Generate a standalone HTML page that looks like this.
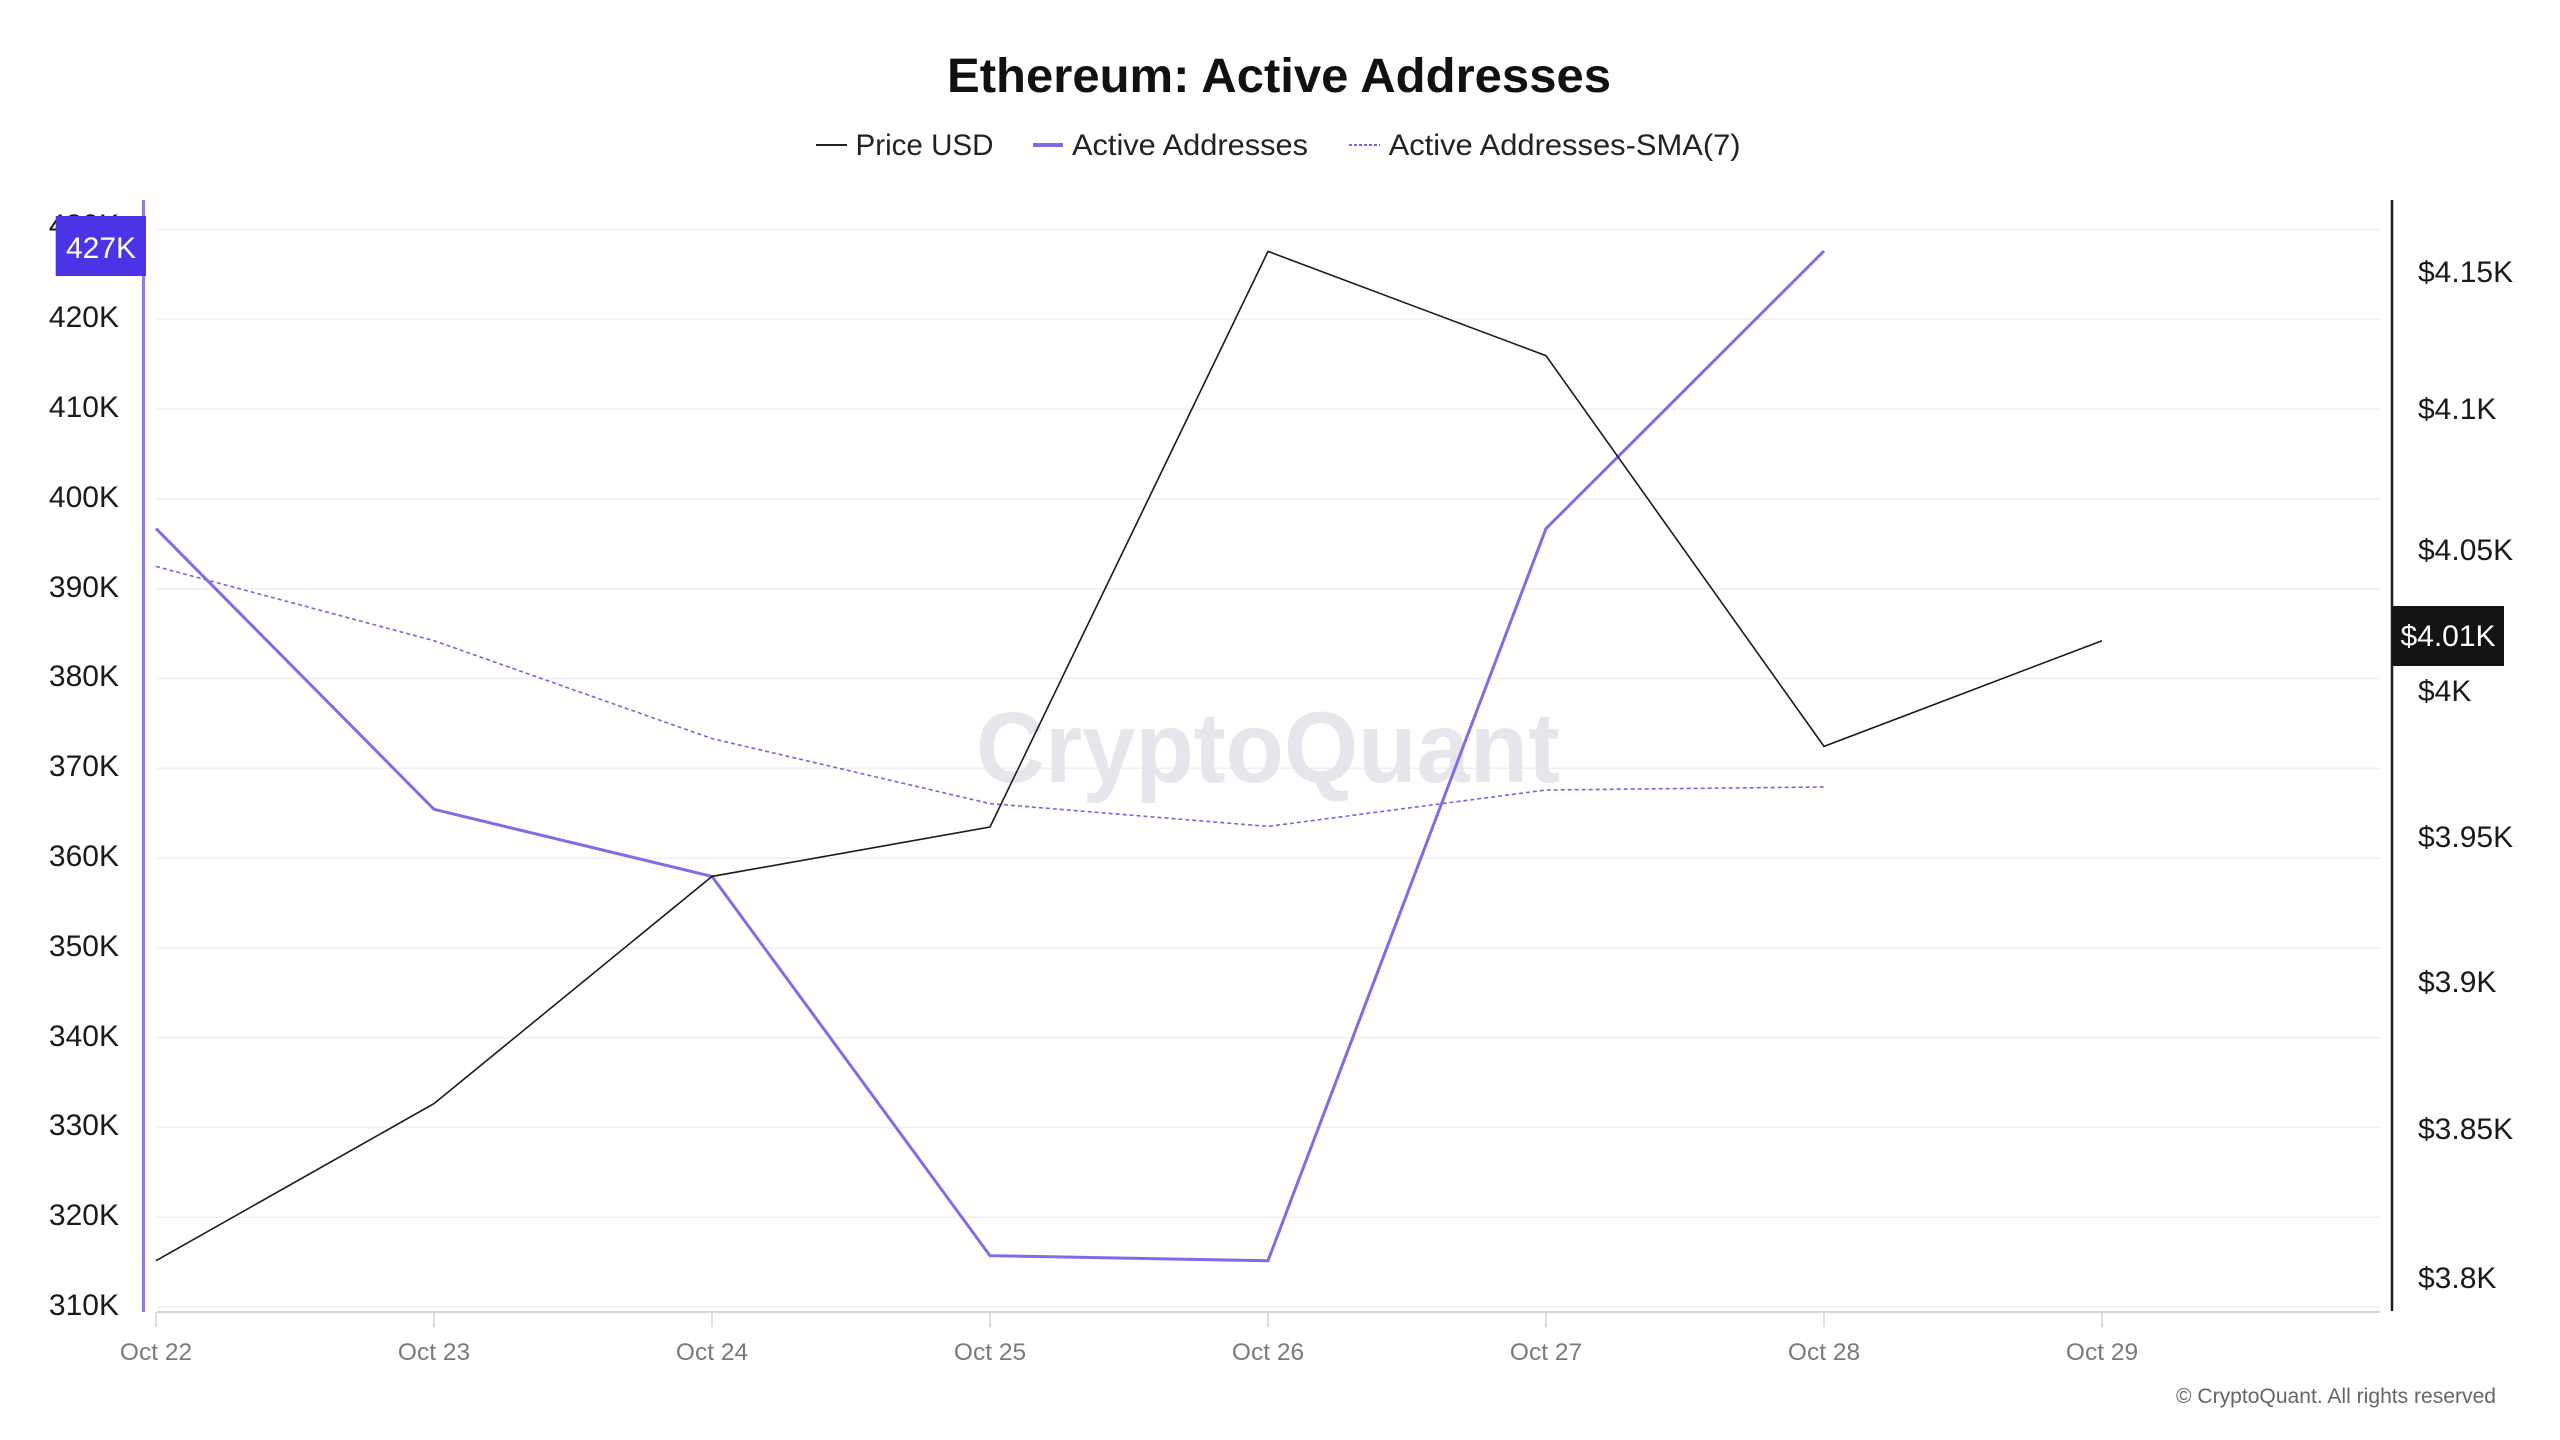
<!DOCTYPE html>
<html>
<head>
<meta charset="utf-8">
<style>
  html, body { margin: 0; padding: 0; background: #ffffff; }
  body { width: 2560px; height: 1440px; overflow: hidden; }
  svg { display: block; }
  text { font-family: "Liberation Sans", "DejaVu Sans", sans-serif; }
</style>
</head>
<body>
<svg width="2560" height="1440" viewBox="0 0 2560 1440" xmlns="http://www.w3.org/2000/svg">
  <rect x="0" y="0" width="2560" height="1440" fill="#ffffff"/>

  <!-- Title -->
  <text x="1279" y="92" text-anchor="middle" font-size="48" font-weight="bold" fill="#111111" textLength="664" lengthAdjust="spacingAndGlyphs">Ethereum: Active Addresses</text>

  <!-- Legend -->
  <line x1="816" y1="145" x2="847" y2="145" stroke="#222222" stroke-width="2"/>
  <text x="855.5" y="155" font-size="30" fill="#222222" textLength="138" lengthAdjust="spacingAndGlyphs">Price USD</text>
  <line x1="1033" y1="145" x2="1063" y2="145" stroke="#7b6ee8" stroke-width="4"/>
  <text x="1072" y="155" font-size="30" fill="#222222" textLength="236" lengthAdjust="spacingAndGlyphs">Active Addresses</text>
  <line x1="1349" y1="145" x2="1380" y2="145" stroke="#7466e0" stroke-width="2" stroke-dasharray="3 2"/>
  <text x="1388.6" y="155" font-size="30" fill="#222222" textLength="352" lengthAdjust="spacingAndGlyphs">Active Addresses-SMA(7)</text>

  <!-- Gridlines -->
  <g stroke="#efeff1" stroke-width="1.5">
    <line x1="157" y1="229.5" x2="2380" y2="229.5"/>
    <line x1="157" y1="319.3" x2="2380" y2="319.3"/>
    <line x1="157" y1="409.1" x2="2380" y2="409.1"/>
    <line x1="157" y1="498.9" x2="2380" y2="498.9"/>
    <line x1="157" y1="588.7" x2="2380" y2="588.7"/>
    <line x1="157" y1="678.5" x2="2380" y2="678.5"/>
    <line x1="157" y1="768.3" x2="2380" y2="768.3"/>
    <line x1="157" y1="858.1" x2="2380" y2="858.1"/>
    <line x1="157" y1="947.9" x2="2380" y2="947.9"/>
    <line x1="157" y1="1037.7" x2="2380" y2="1037.7"/>
    <line x1="157" y1="1127.5" x2="2380" y2="1127.5"/>
    <line x1="157" y1="1217.3" x2="2380" y2="1217.3"/>
    <line x1="157" y1="1307.1" x2="2380" y2="1307.1"/>
  </g>

  <!-- Watermark -->
  <text x="1268" y="782" text-anchor="middle" font-size="100" font-weight="bold" fill="#e6e6ed" textLength="584" lengthAdjust="spacingAndGlyphs">CryptoQuant</text>

  <!-- X axis -->
  <line x1="157" y1="1312" x2="2380" y2="1312" stroke="#d4d4d8" stroke-width="2"/>
  <g stroke="#d4d4d8" stroke-width="1.5">
    <line x1="156" y1="1312" x2="156" y2="1327"/>
    <line x1="434" y1="1312" x2="434" y2="1327"/>
    <line x1="712" y1="1312" x2="712" y2="1327"/>
    <line x1="990" y1="1312" x2="990" y2="1327"/>
    <line x1="1268" y1="1312" x2="1268" y2="1327"/>
    <line x1="1546" y1="1312" x2="1546" y2="1327"/>
    <line x1="1824" y1="1312" x2="1824" y2="1327"/>
    <line x1="2102" y1="1312" x2="2102" y2="1327"/>
  </g>
  <g font-size="24.5" fill="#7a7a7e" text-anchor="middle">
    <text x="156" y="1360">Oct 22</text>
    <text x="434" y="1360">Oct 23</text>
    <text x="712" y="1360">Oct 24</text>
    <text x="990" y="1360">Oct 25</text>
    <text x="1268" y="1360">Oct 26</text>
    <text x="1546" y="1360">Oct 27</text>
    <text x="1824" y="1360">Oct 28</text>
    <text x="2102" y="1360">Oct 29</text>
  </g>

  <!-- Left axis -->
  <line x1="143.5" y1="200" x2="143.5" y2="1312" stroke="#8a7de8" stroke-width="3"/>
  <g font-size="30" fill="#1a1a1a" text-anchor="end">
    <text x="119" y="235">430K</text>
    <text x="119" y="327">420K</text>
    <text x="119" y="417">410K</text>
    <text x="119" y="507">400K</text>
    <text x="119" y="597">390K</text>
    <text x="119" y="686">380K</text>
    <text x="119" y="776">370K</text>
    <text x="119" y="866">360K</text>
    <text x="119" y="956">350K</text>
    <text x="119" y="1046">340K</text>
    <text x="119" y="1135">330K</text>
    <text x="119" y="1225">320K</text>
    <text x="119" y="1315">310K</text>
  </g>
  <rect x="55.7" y="216" width="90.3" height="60" fill="#4b33e6"/>
  <text x="101" y="258" font-size="30" fill="#ffffff" text-anchor="middle">427K</text>

  <!-- Right axis -->
  <line x1="2392" y1="200" x2="2392" y2="1311" stroke="#1e1e1e" stroke-width="2.5"/>
  <g font-size="30" fill="#1a1a1a">
    <text x="2418" y="282">$4.15K</text>
    <text x="2418" y="419">$4.1K</text>
    <text x="2418" y="560">$4.05K</text>
    <text x="2418" y="701">$4K</text>
    <text x="2418" y="847">$3.95K</text>
    <text x="2418" y="992">$3.9K</text>
    <text x="2418" y="1139">$3.85K</text>
    <text x="2418" y="1288">$3.8K</text>
  </g>
  <rect x="2392" y="606" width="112" height="60" fill="#131316"/>
  <text x="2448" y="646" font-size="30" fill="#ffffff" text-anchor="middle">$4.01K</text>

  <!-- SMA(7) dashed -->
  <polyline fill="none" stroke="#7466e0" stroke-width="1.6" stroke-dasharray="4 3"
    points="156,566.4 434,640.7 712,738.6 990,803.6 1268,826.4 1546,790 1824,787"/>

  <!-- Active Addresses -->
  <polyline fill="none" stroke="#7b6ee8" stroke-width="3" stroke-linejoin="miter"
    points="156,528.6 434,809.3 712,876.4 990,1255.7 1268,1260.7 1546,528.6 1824,251"/>

  <!-- Price USD -->
  <polyline fill="none" stroke="#1a1a1a" stroke-width="1.6"
    points="156,1260.7 434,1103.6 712,876.4 990,827 1268,251.4 1546,355.7 1824,746.4 2102,640.7"/>

  <!-- Copyright -->
  <text x="2496" y="1403" font-size="21" fill="#666666" text-anchor="end" textLength="320" lengthAdjust="spacingAndGlyphs">© CryptoQuant. All rights reserved</text>
</svg>
</body>
</html>
